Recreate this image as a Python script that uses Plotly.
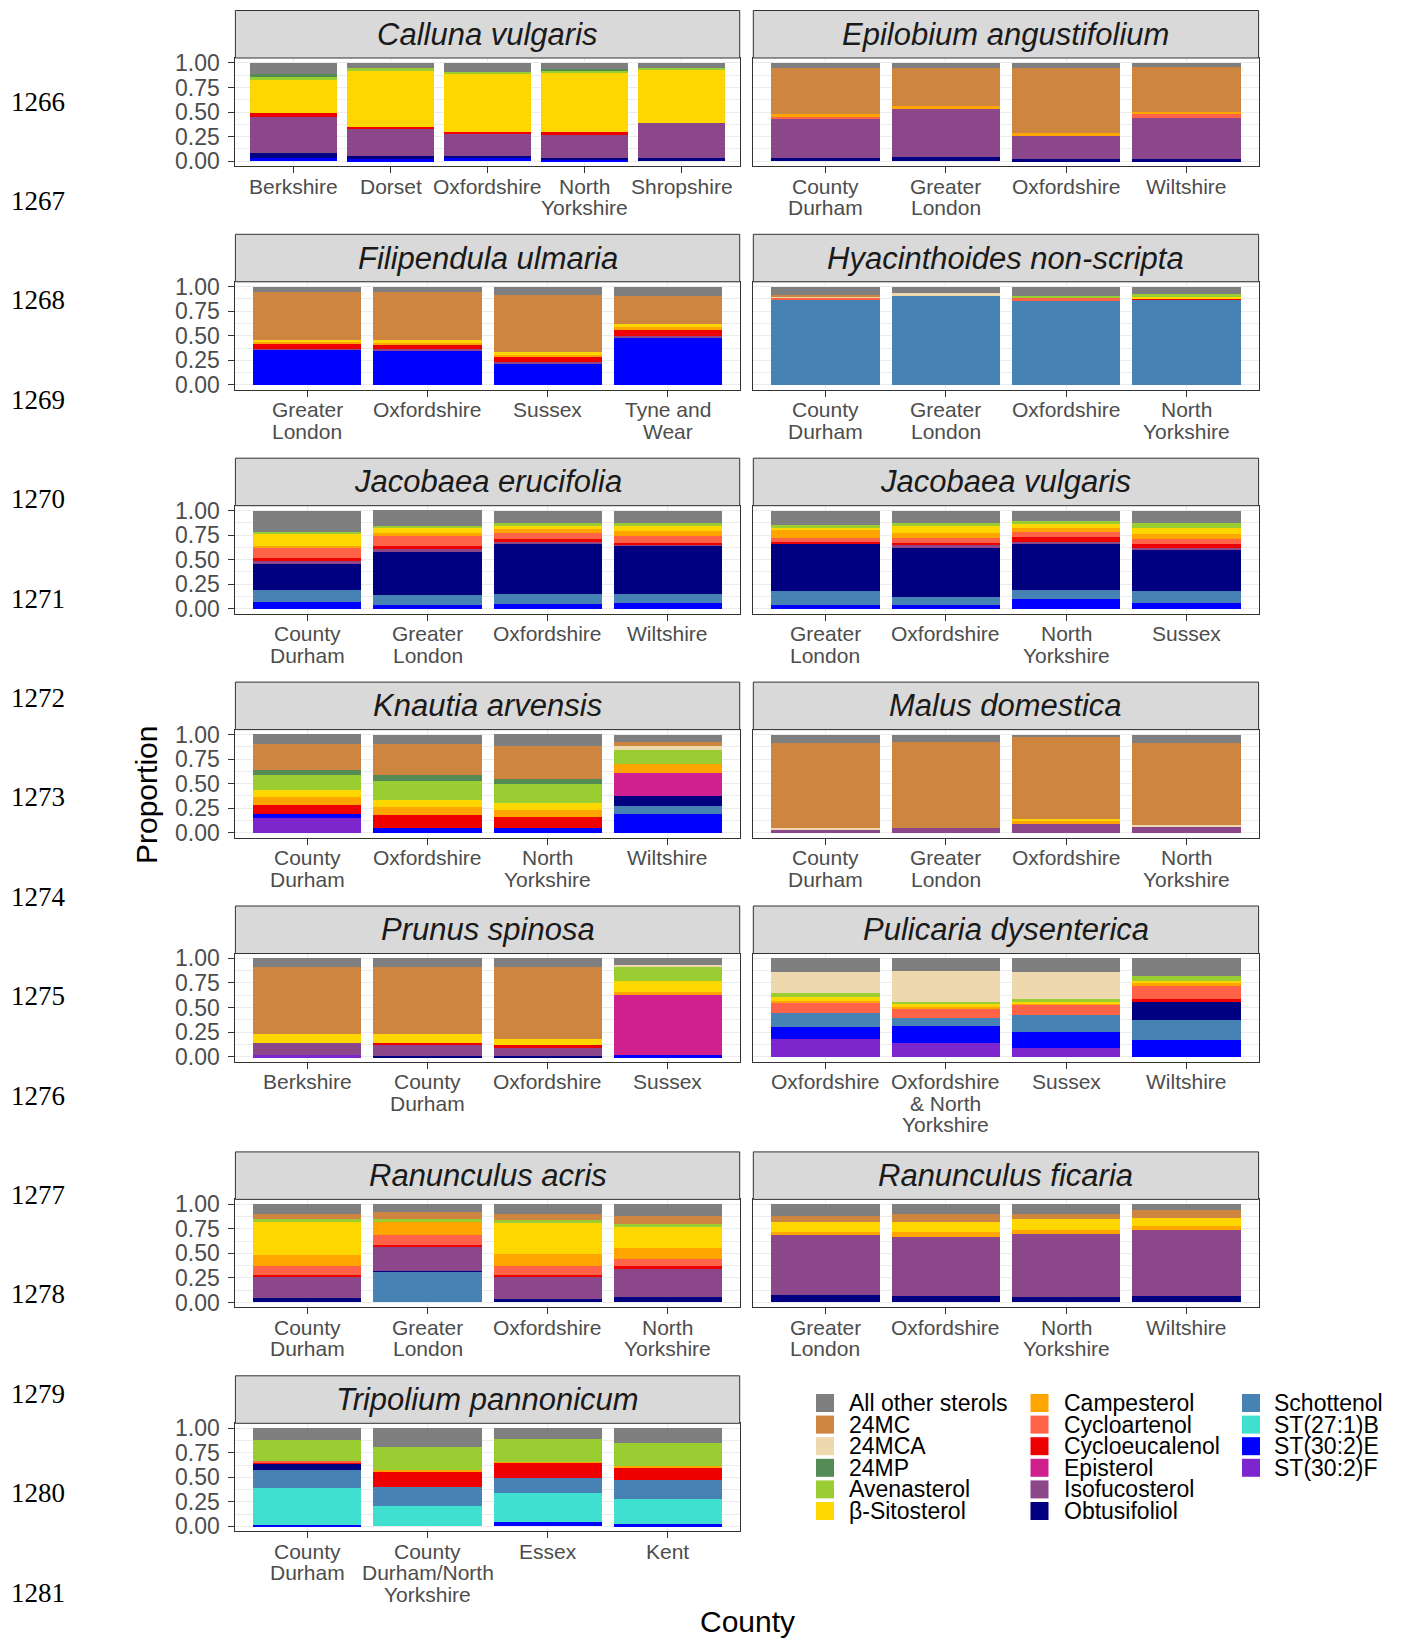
"""Sterol composition per county, faceted by plant species (stacked proportions)."""

import plotly.graph_objects as go

W, H = 1403, 1640

STEROLS = [
    "All other sterols", "24MC", "24MCA", "24MP", "Avenasterol", "β-Sitosterol",
    "Campesterol", "Cycloartenol", "Cycloeucalenol", "Episterol", "Isofucosterol",
    "Obtusifoliol", "Schottenol", "ST(27:1)B", "ST(30:2)E", "ST(30:2)F",
]
STEROL_COLOURS = [
    "#7F7F7F", "#CD853F", "#EED8AE", "#548B54", "#9ACD32", "#FFD700",
    "#FFA500", "#FF6347", "#EE0000", "#D02090", "#8B4789",
    "#000080", "#4682B4", "#40E0D0", "#0000FF", "#7D26CD",
]

# --- data: proportion of each sterol per county, one dict per species ---
CALLUNA_COUNTIES = ["Berkshire", "Dorset", "Oxfordshire", "North<br>Yorkshire", "Shropshire"]
CALLUNA = {
    "All other sterols": [0.116, 0.054, 0.088, 0.061, 0.048],
    "24MP": [0.027, 0, 0, 0.020, 0],
    "Avenasterol": [0.030, 0.024, 0.024, 0.024, 0.020],
    "β-Sitosterol": [0.341, 0.571, 0.588, 0.602, 0.548],
    "Cycloeucalenol": [0.034, 0.024, 0.024, 0.027, 0],
    "Isofucosterol": [0.374, 0.276, 0.224, 0.231, 0.350],
    "Obtusifoliol": [0.044, 0.030, 0.024, 0.017, 0.034],
    "ST(30:2)E": [0.034, 0.020, 0.027, 0.017, 0],
}

EPILOBIUM_COUNTIES = ["County<br>Durham", "Greater<br>London", "Oxfordshire", "Wiltshire"]
EPILOBIUM = {
    "All other sterols": [0.048, 0.048, 0.048, 0.044],
    "24MC": [0.476, 0.388, 0.663, 0.452],
    "Campesterol": [0.024, 0.034, 0.034, 0.024],
    "Cycloartenol": [0.017, 0, 0, 0.037],
    "Isofucosterol": [0.401, 0.486, 0.235, 0.422],
    "Obtusifoliol": [0.034, 0.044, 0.020, 0.020],
}

FILIPENDULA_COUNTIES = ["Greater<br>London", "Oxfordshire", "Sussex", "Tyne and<br>Wear"]
FILIPENDULA = {
    "All other sterols": [0.055, 0.055, 0.078, 0.089],
    "24MC": [0.485, 0.491, 0.590, 0.290],
    "β-Sitosterol": [0.017, 0.020, 0.020, 0.031],
    "Campesterol": [0.017, 0.020, 0.020, 0.027],
    "Cycloeucalenol": [0.058, 0.048, 0.055, 0.061],
    "Isofucosterol": [0.010, 0.017, 0.020, 0.020],
    "ST(30:2)E": [0.358, 0.348, 0.215, 0.481],
}

HYACINTHOIDES_COUNTIES = ["County<br>Durham", "Greater<br>London", "Oxfordshire", "North<br>Yorkshire"]
HYACINTHOIDES = {
    "All other sterols": [0.085, 0.068, 0.096, 0.072],
    "24MC": [0.012, 0, 0, 0],
    "24MCA": [0.015, 0.027, 0, 0],
    "Avenasterol": [0, 0, 0.024, 0.031],
    "β-Sitosterol": [0, 0, 0, 0.014],
    "Cycloartenol": [0.024, 0, 0.027, 0],
    "Cycloeucalenol": [0, 0, 0, 0.024],
    "Schottenol": [0.864, 0.905, 0.853, 0.860],
}

JAC_ERUCIFOLIA_COUNTIES = ["County<br>Durham", "Greater<br>London", "Oxfordshire", "Wiltshire"]
JAC_ERUCIFOLIA = {
    "All other sterols": [0.216, 0.158, 0.131, 0.125],
    "Avenasterol": [0.020, 0.024, 0.027, 0.027],
    "β-Sitosterol": [0.125, 0.044, 0.034, 0.057],
    "Campesterol": [0.017, 0.034, 0.034, 0.050],
    "Cycloartenol": [0.101, 0.101, 0.061, 0.067],
    "Cycloeucalenol": [0.040, 0.034, 0.030, 0.017],
    "Isofucosterol": [0.027, 0.024, 0.013, 0.013],
    "Obtusifoliol": [0.263, 0.438, 0.519, 0.492],
    "Schottenol": [0.125, 0.111, 0.101, 0.094],
    "ST(30:2)E": [0.067, 0.034, 0.050, 0.057],
}

JAC_VULGARIS_COUNTIES = ["Greater<br>London", "Oxfordshire", "North<br>Yorkshire", "Sussex"]
JAC_VULGARIS = {
    "All other sterols": [0.152, 0.125, 0.108, 0.125],
    "Avenasterol": [0.024, 0.034, 0.027, 0.057],
    "β-Sitosterol": [0.024, 0.067, 0.040, 0.054],
    "Campesterol": [0.077, 0.050, 0.044, 0.057],
    "Cycloartenol": [0.040, 0.050, 0.050, 0.050],
    "Cycloeucalenol": [0.020, 0.024, 0.047, 0.034],
    "Isofucosterol": [0, 0.020, 0.020, 0.024],
    "Obtusifoliol": [0.478, 0.505, 0.471, 0.421],
    "Schottenol": [0.152, 0.091, 0.091, 0.121],
    "ST(30:2)E": [0.034, 0.034, 0.101, 0.057],
}

KNAUTIA_COUNTIES = ["County<br>Durham", "Oxfordshire", "North<br>Yorkshire", "Wiltshire"]
KNAUTIA = {
    "All other sterols": [0.095, 0.095, 0.122, 0.071],
    "24MC": [0.264, 0.315, 0.329, 0.047],
    "24MCA": [0, 0, 0, 0.037],
    "24MP": [0.058, 0.068, 0.058, 0],
    "Avenasterol": [0.146, 0.193, 0.190, 0.142],
    "β-Sitosterol": [0.075, 0.068, 0.075, 0],
    "Campesterol": [0.085, 0.078, 0.068, 0.092],
    "Cycloeucalenol": [0.092, 0.136, 0.112, 0],
    "Episterol": [0, 0, 0, 0.237],
    "Obtusifoliol": [0, 0, 0, 0.105],
    "Schottenol": [0, 0, 0, 0.081],
    "ST(30:2)E": [0.037, 0.047, 0.047, 0.186],
    "ST(30:2)F": [0.149, 0, 0, 0],
}

MALUS_COUNTIES = ["County<br>Durham", "Greater<br>London", "Oxfordshire", "North<br>Yorkshire"]
MALUS = {
    "All other sterols": [0.085, 0.078, 0.027, 0.088],
    "24MC": [0.864, 0.875, 0.830, 0.830],
    "24MCA": [0.017, 0, 0, 0.024],
    "β-Sitosterol": [0, 0, 0.027, 0],
    "Campesterol": [0, 0, 0.017, 0],
    "Isofucosterol": [0.034, 0.047, 0.098, 0.058],
}

PRUNUS_COUNTIES = ["Berkshire", "County<br>Durham", "Oxfordshire", "Sussex"]
PRUNUS = {
    "All other sterols": [0.088, 0.088, 0.088, 0.068],
    "24MC": [0.685, 0.685, 0.729, 0],
    "24MCA": [0, 0, 0, 0.010],
    "Avenasterol": [0, 0, 0, 0.153],
    "β-Sitosterol": [0.092, 0.085, 0.068, 0.112],
    "Campesterol": [0, 0, 0, 0.017],
    "Cycloeucalenol": [0, 0.024, 0.031, 0],
    "Episterol": [0, 0, 0, 0.627],
    "Isofucosterol": [0.119, 0.108, 0.075, 0],
    "Obtusifoliol": [0, 0.010, 0.010, 0],
    "ST(30:2)E": [0, 0, 0, 0.014],
    "ST(30:2)F": [0.017, 0, 0, 0],
}

PULICARIA_COUNTIES = ["Oxfordshire", "Oxfordshire<br>& North<br>Yorkshire", "Sussex", "Wiltshire"]
PULICARIA = {
    "All other sterols": [0.136, 0.129, 0.136, 0.180],
    "24MCA": [0.220, 0.312, 0.281, 0],
    "Avenasterol": [0.034, 0.017, 0.024, 0.051],
    "β-Sitosterol": [0.044, 0.034, 0.010, 0.024],
    "Campesterol": [0.024, 0.027, 0.017, 0.017],
    "Cycloartenol": [0.102, 0.092, 0.108, 0.139],
    "Cycloeucalenol": [0, 0, 0, 0.034],
    "Obtusifoliol": [0, 0, 0, 0.186],
    "Schottenol": [0.139, 0.078, 0.173, 0.203],
    "ST(30:2)E": [0.125, 0.169, 0.166, 0.166],
    "ST(30:2)F": [0.176, 0.142, 0.085, 0],
}

RAN_ACRIS_COUNTIES = ["County<br>Durham", "Greater<br>London", "Oxfordshire", "North<br>Yorkshire"]
RAN_ACRIS = {
    "All other sterols": [0.095, 0.078, 0.102, 0.119],
    "24MC": [0.051, 0.068, 0.061, 0.078],
    "Avenasterol": [0.034, 0.034, 0.034, 0.034],
    "β-Sitosterol": [0.339, 0, 0.312, 0.214],
    "Campesterol": [0.108, 0.136, 0.122, 0.108],
    "Cycloartenol": [0.088, 0.095, 0.092, 0.078],
    "Cycloeucalenol": [0.024, 0.024, 0.017, 0.031],
    "Isofucosterol": [0.220, 0.244, 0.231, 0.288],
    "Obtusifoliol": [0.041, 0.010, 0.031, 0.051],
    "Schottenol": [0, 0.312, 0, 0],
}

RAN_FICARIA_COUNTIES = ["Greater<br>London", "Oxfordshire", "North<br>Yorkshire", "Wiltshire"]
RAN_FICARIA = {
    "All other sterols": [0.119, 0.102, 0.102, 0.061],
    "24MC": [0.061, 0.078, 0.044, 0.075],
    "β-Sitosterol": [0.102, 0.102, 0.119, 0.088],
    "Campesterol": [0.027, 0.051, 0.034, 0.034],
    "Isofucosterol": [0.617, 0.603, 0.651, 0.675],
    "Obtusifoliol": [0.075, 0.064, 0.051, 0.068],
}

TRIPOLIUM_COUNTIES = ["County<br>Durham", "County<br>Durham/North<br>Yorkshire", "Essex", "Kent"]
TRIPOLIUM = {
    "All other sterols": [0.118, 0.189, 0.111, 0.145],
    "Avenasterol": [0.220, 0.236, 0.230, 0.243],
    "Campesterol": [0, 0.014, 0.010, 0.010],
    "Cycloartenol": [0.014, 0, 0, 0],
    "Cycloeucalenol": [0.014, 0.155, 0.155, 0.125],
    "Obtusifoliol": [0.061, 0, 0, 0],
    "Schottenol": [0.186, 0.199, 0.152, 0.196],
    "ST(27:1)B": [0.373, 0.206, 0.297, 0.260],
    "ST(30:2)E": [0.014, 0, 0.044, 0.020],
}

PANELS = [
    ("Calluna vulgaris", CALLUNA_COUNTIES, CALLUNA),
    ("Epilobium angustifolium", EPILOBIUM_COUNTIES, EPILOBIUM),
    ("Filipendula ulmaria", FILIPENDULA_COUNTIES, FILIPENDULA),
    ("Hyacinthoides non-scripta", HYACINTHOIDES_COUNTIES, HYACINTHOIDES),
    ("Jacobaea erucifolia", JAC_ERUCIFOLIA_COUNTIES, JAC_ERUCIFOLIA),
    ("Jacobaea vulgaris", JAC_VULGARIS_COUNTIES, JAC_VULGARIS),
    ("Knautia arvensis", KNAUTIA_COUNTIES, KNAUTIA),
    ("Malus domestica", MALUS_COUNTIES, MALUS),
    ("Prunus spinosa", PRUNUS_COUNTIES, PRUNUS),
    ("Pulicaria dysenterica", PULICARIA_COUNTIES, PULICARIA),
    ("Ranunculus acris", RAN_ACRIS_COUNTIES, RAN_ACRIS),
    ("Ranunculus ficaria", RAN_FICARIA_COUNTIES, RAN_FICARIA),
    ("Tripolium pannonicum", TRIPOLIUM_COUNTIES, TRIPOLIUM),
]

Y_TICKS = [0, 0.25, 0.5, 0.75, 1.0]
Y_TICK_TEXT = ["0.00", "0.25", "0.50", "0.75", "1.00"]
LINE_NUMBERS = list(range(1266, 1282))

# --- layout geometry (pixels) ---
COL_X = [(235.4, 739.7), (753.3, 1258.6)]
STRIP_TOP = [10.5, 234.3, 458.2, 682.1, 906.0, 1151.9, 1375.8]
STRIP_H = 47.5
PANEL_H = 108.0

_FONT = "Liberation Sans, Arial, sans-serif"
_DARK = "#333333"
_GRID = "#EBEBEB"
_TICK_FONT = {"family": _FONT, "size": 21, "color": "#4D4D4D"}
_YTICK_FONT = {"family": _FONT, "size": 23, "color": "#4D4D4D"}

fig = go.Figure()
layout: dict = {}
shapes = []
annotations = []

for i, (species, counties, values) in enumerate(PANELS):
    n = i + 1
    suffix = "" if n == 1 else str(n)
    row, col = divmod(i, 2)
    x0, x1 = COL_X[col]
    top = STRIP_TOP[row] + STRIP_H
    bottom = top + PANEL_H

    for sterol, colour in reversed(list(zip(STEROLS, STEROL_COLOURS))):
        if sterol not in values:
            continue
        fig.add_trace(
            go.Bar(
                x=counties,
                y=values[sterol],
                name=sterol,
                marker={"color": colour, "line": {"width": 0}},
                xaxis=f"x{suffix}",
                yaxis=f"y{suffix}",
                showlegend=False,
                hovertemplate=f"{sterol}<br>%{{x}}: %{{y:.3f}}<extra></extra>",
            )
        )

    layout[f"xaxis{suffix}"] = {
        "domain": [x0 / W, x1 / W],
        "anchor": f"y{suffix}",
        "type": "category",
        "categoryorder": "array",
        "categoryarray": counties,
        "range": [-0.6, len(counties) - 0.4],
        "showline": True,
        "mirror": True,
        "linecolor": _DARK,
        "linewidth": 1,
        "ticks": "outside",
        "ticklen": 6,
        "tickcolor": _DARK,
        "showticklabels": False,
        "showgrid": True,
        "gridcolor": _GRID,
        "zeroline": False,
        "automargin": False,
        "fixedrange": True,
    }
    layout[f"yaxis{suffix}"] = {
        "domain": [1 - bottom / H, 1 - top / H],
        "anchor": f"x{suffix}",
        "range": [-0.05, 1.05],
        "tickvals": Y_TICKS,
        "ticktext": Y_TICK_TEXT,
        "showticklabels": col == 0,
        "ticks": "outside" if col == 0 else "",
        "ticklen": 6,
        "tickcolor": _DARK,
        "tickfont": _YTICK_FONT,
        "ticklabelstandoff": 4,
        "showline": True,
        "mirror": True,
        "linecolor": _DARK,
        "linewidth": 1,
        "showgrid": True,
        "gridcolor": _GRID,
        "gridwidth": 1,
        "minor": {"tickvals": [0.125, 0.375, 0.625, 0.875], "showgrid": True,
                  "gridcolor": _GRID, "gridwidth": 0.5},
        "zeroline": False,
        "automargin": False,
        "fixedrange": True,
    }

    # county labels under each bar, one line per annotation for tight line spacing
    for county in counties:
        for k, line in enumerate(county.split("<br>")):
            annotations.append({
                "text": line, "xref": f"x{suffix}", "yref": f"y{suffix}",
                "x": county, "y": -0.05, "yshift": -(20 + 21.5 * k),
                "xanchor": "center", "yanchor": "middle", "showarrow": False,
                "font": _TICK_FONT,
            })

    # facet strip
    shapes.append({
        "type": "rect", "xref": "paper", "yref": "paper",
        "x0": x0 / W, "x1": x1 / W,
        "y0": 1 - top / H, "y1": 1 - STRIP_TOP[row] / H,
        "fillcolor": "#D9D9D9", "line": {"color": _DARK, "width": 1},
    })
    annotations.append({
        "text": species, "xref": "paper", "yref": "paper",
        "x": (x0 + x1) / 2 / W, "y": 1 - (STRIP_TOP[row] + STRIP_H / 2) / H,
        "xanchor": "center", "yanchor": "middle", "showarrow": False,
        "font": {"family": _FONT, "size": 31, "color": "#1A1A1A", "style": "italic"},
    })

# manual legend: three columns, filled top to bottom
LEG_KEY_X = [816.0, 1030.5, 1242.0]
LEG_TEXT_X = [846.5, 1062.0, 1272.0]
LEG_Y0, LEG_DY, LEG_KEY = 1403.0, 21.6, 18.0
for k, (sterol, colour) in enumerate(zip(STEROLS, STEROL_COLOURS)):
    c, r = divmod(k, 6)
    yc = LEG_Y0 + r * LEG_DY
    shapes.append({
        "type": "rect", "xref": "paper", "yref": "paper",
        "x0": LEG_KEY_X[c] / W, "x1": (LEG_KEY_X[c] + LEG_KEY) / W,
        "y0": 1 - (yc + LEG_KEY / 2) / H, "y1": 1 - (yc - LEG_KEY / 2) / H,
        "fillcolor": colour, "line": {"width": 0},
    })
    annotations.append({
        "text": sterol, "xref": "paper", "yref": "paper",
        "x": LEG_TEXT_X[c] / W, "y": 1 - yc / H,
        "xanchor": "left", "yanchor": "middle", "showarrow": False,
        "font": {"family": _FONT, "size": 23, "color": "#000000"},
    })

# axis titles
annotations.append({
    "text": "Proportion", "xref": "paper", "yref": "paper",
    "x": 146 / W, "y": 1 - 795 / H, "textangle": -90,
    "xanchor": "center", "yanchor": "middle", "showarrow": False,
    "font": {"family": _FONT, "size": 30, "color": "#000000"},
})
annotations.append({
    "text": "County", "xref": "paper", "yref": "paper",
    "x": 747 / W, "y": 1 - 1621 / H,
    "xanchor": "center", "yanchor": "middle", "showarrow": False,
    "font": {"family": _FONT, "size": 30, "color": "#000000"},
})

# manuscript line numbers down the left margin
for k, num in enumerate(LINE_NUMBERS):
    annotations.append({
        "text": str(num), "xref": "paper", "yref": "paper",
        "x": 38 / W, "y": 1 - (101.5 + k * 99.4) / H,
        "xanchor": "center", "yanchor": "middle", "showarrow": False,
        "font": {"family": "Liberation Serif, Times New Roman, serif", "size": 27,
                 "color": "#000000"},
    })

fig.update_layout(
    **layout,
    width=W,
    height=H,
    autosize=False,
    margin={"l": 0, "r": 0, "t": 0, "b": 0, "autoexpand": False},
    barmode="stack",
    bargap=0.1,
    plot_bgcolor="#FFFFFF",
    paper_bgcolor="#FFFFFF",
    showlegend=False,
    shapes=shapes,
    annotations=annotations,
    font={"family": _FONT},
)

fig.write_html(
    "out.html",
    config={"displayModeBar": False, "responsive": False},
    post_script="document.body.style.margin='0';",
)
